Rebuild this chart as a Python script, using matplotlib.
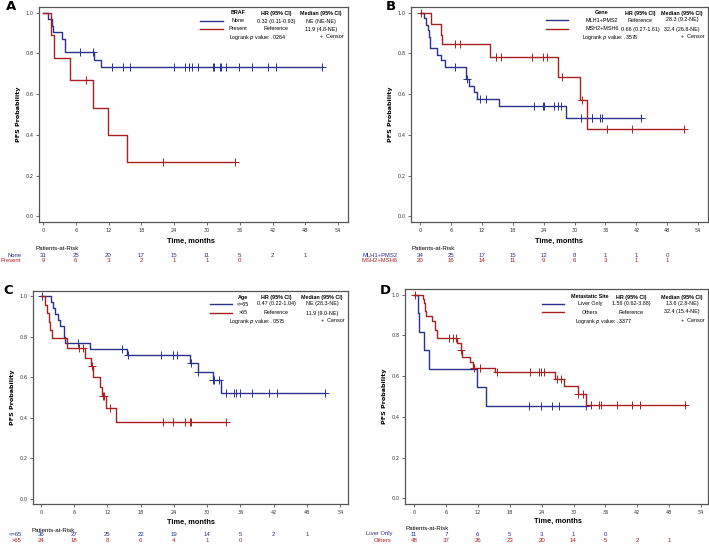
import numpy as np
import matplotlib
matplotlib.use("Agg")
import matplotlib.pyplot as plt
from matplotlib.transforms import blended_transform_factory

# colours of the two groups
BLUE = '#2a318c'
RED = '#a81f1f'

W, H = 709, 545

risk_times = [0, 6, 12, 18, 24, 30, 36, 42, 48]

# ---------------- panel A : BRAF ----------------
a_blue_t = [0, 0.9, 1.7, 1.8, 3.4, 4.1, 9.3, 10.6]
a_blue_s = [1.0, 0.968, 0.935, 0.903, 0.871, 0.806, 0.768, 0.732]
a_blue_c = [6.8, 9.2, 12.7, 14.7, 15.9, 23.9, 26.0, 26.8, 27.3, 28.4, 31.1, 31.3,
            32.3, 32.5, 33.5, 35.8, 38.2, 41.1, 42.7, 51.1]
a_blue_end = 51.1
a_red_t = [0, 1.5, 2.0, 4.9, 9.1, 11.9, 15.4]
a_red_s = [1.0, 0.889, 0.778, 0.667, 0.533, 0.400, 0.267]
a_red_c = [7.8, 22.0, 35.2]
a_red_end = 35.2
a_risk_blue = [31, 25, 20, 17, 15, 11, 5, 2, 1]
a_risk_red = [9, 6, 3, 2, 1, 1, 0]
a_groups = ['None', 'Present']
a_legend = ['BRAF', ['None', '0.32 (0.11-0.93)', 'NE (NE-NE)'],
            ['Present', 'Reference', '11.9 (4.8-NE)'], '.0264']

# ---------------- panel B : Gene ----------------
b_blue_t = [0, 0.7, 1.1, 1.5, 1.7, 1.9, 2.0, 3.2, 4.1, 4.9, 8.9, 9.0, 9.5, 10.5,
            11.0, 15.4, 28.3]
b_blue_s = [1.0, 0.971, 0.941, 0.912, 0.882, 0.853, 0.824, 0.794, 0.765, 0.735,
            0.705, 0.675, 0.642, 0.610, 0.577, 0.540, 0.483]
b_blue_c = [6.8, 9.2, 11.6, 12.8, 22.1, 23.9, 24.1, 26.1, 26.7, 27.3, 31.2, 32.5,
            33.3, 33.4, 34.9, 35.4, 42.9]
b_blue_end = 42.9
b_red_t = [0, 2.1, 4.1, 4.3, 13.6, 26.8, 31.0, 32.5]
b_red_s = [1.0, 0.946, 0.89, 0.844, 0.78, 0.683, 0.572, 0.429]
b_red_c = [0.1, 6.8, 7.8, 14.7, 15.8, 21.7, 23.9, 24.7, 27.6, 31.4, 36.2, 41.2, 51.3]
b_red_end = 51.3
b_risk_blue = [34, 25, 17, 15, 12, 8, 1, 1, 0]
b_risk_red = [20, 16, 14, 11, 9, 6, 3, 1, 1]
b_groups = ['MLH1+PMS2', 'MSH2+MSH6']
b_legend = ['Gene', ['MLH1+PMS2', 'Reference', '28.3 (9.2-NE)'],
            ['MSH2+MSH6', '0.66 (0.27-1.61)', '32.4 (26.8-NE)'], '.3578']

# ---------------- panel C : Age ----------------
c_blue_t = [0, 1.8, 2.1, 2.5, 3.0, 3.5, 4.1, 4.4, 8.9, 15.5, 26.8, 28.3, 31.0, 32.4]
c_blue_s = [1.0, 0.972, 0.942, 0.914, 0.882, 0.854, 0.80, 0.77, 0.738, 0.709,
            0.671, 0.627, 0.586, 0.523]
c_blue_c = [0.2, 6.6, 14.7, 15.7, 21.7, 23.8, 23.9, 24.5, 27.1, 28.4, 31.1, 31.2,
            32.2, 33.4, 34.8, 35.2, 36.0, 38.1, 41.1, 42.6, 51.3]
c_blue_end = 51.3
c_red_t = [0, 0.8, 1.0, 1.4, 1.7, 2.0, 4.7, 8.0, 9.0, 9.4, 10.6, 11.0, 11.8, 13.6]
c_red_s = [1.0, 0.958, 0.917, 0.875, 0.833, 0.792, 0.747, 0.697, 0.655, 0.602,
           0.553, 0.507, 0.449, 0.38]
c_red_c = [6.8, 7.6, 9.2, 11.2, 11.4, 12.4, 22.0, 23.8, 25.9, 26.8, 27.1, 33.4]
c_red_end = 33.4
c_risk_blue = [36, 27, 25, 22, 19, 14, 5, 2, 1]
c_risk_red = [24, 18, 8, 6, 4, 1, 0]
c_groups = ['<=65', '>65']
c_legend = ['Age', ['<=65', '0.47 (0.22-1.04)', 'NE (28.3-NE)'],
            ['>65', 'Reference', '11.9 (9.0-NE)'], '.0575']

# ---------------- panel D : Metastatic site ----------------
d_blue_t = [0, 0.8, 0.9, 1.9, 2.8, 11.9, 13.5]
d_blue_s = [1.0, 0.909, 0.818, 0.727, 0.636, 0.545, 0.455]
d_blue_c = [21.7, 23.8, 26.0, 27.2, 32.3]
d_blue_end = 32.3
d_red_t = [0, 1.6, 1.8, 2.0, 2.1, 2.2, 3.3, 3.9, 4.4, 8.0, 8.8, 9.1, 10.5, 11.0,
           15.2, 26.6, 28.2, 30.8, 32.3]
d_red_s = [1.0, 0.979, 0.958, 0.938, 0.917, 0.896, 0.87, 0.827, 0.787, 0.764,
           0.728, 0.695, 0.669, 0.641, 0.621, 0.588, 0.55, 0.514, 0.46]
d_red_c = [0.1, 6.6, 7.4, 7.8, 8.9, 11.3, 12.4, 15.7, 21.9, 23.6, 23.9, 24.5, 26.8,
           27.7, 30.9, 31.8, 33.2, 34.8, 35.2, 38.1, 41.0, 42.5, 50.9]
d_red_end = 50.9
d_risk_blue = [11, 7, 6, 5, 3, 1, 0]
d_risk_red = [48, 37, 26, 23, 20, 14, 5, 2, 1]
d_groups = ['Liver Only', 'Others']
d_legend = ['Metastatic Site', ['Liver Only', '1.56 (0.62-3.88)', '13.6 (2.8-NE)'],
            ['Others', 'Reference', '32.4 (15.4-NE)'], '.3377']


def fx(px):
    return px / W


def fy(py):
    return 1 - py / H


def km_curve(ax, t, s, c, end, col):
    x = list(t) + [end]
    y = list(s) + [s[-1]]
    ax.step(x, y, where='post', color=col, lw=1.0, clip_on=False)
    idx = np.searchsorted(t, c, side='right') - 1
    cy = np.array(s)[idx]
    ax.plot(c, cy, ls='none', marker='+', ms=6, mew=0.7, color=col, clip_on=False)


def panel(box, letter, blue, red, risk_b, risk_r, groups, legend, lay):
    # box = left, top, right, bottom in pixels, lay holds the pixel positions of texts
    l, t, r, b = box
    ax = fig.add_axes([fx(l), fy(b), fx(r - l), (b - t) / H])
    km_curve(ax, *blue, BLUE)
    km_curve(ax, *red, RED)
    ax.set_xlim(lay['xlim'])
    ax.set_ylim(-0.027, 1.027)
    ax.set_xticks(np.arange(0, 55, 6))
    ax.set_yticks(np.arange(0, 1.01, 0.2))
    ax.set_yticklabels(['%.1f' % v for v in np.arange(0, 1.01, 0.2)])
    ax.tick_params(labelsize=3.6, length=2, width=0.5, pad=2, colors='#333333')
    for sp in ax.spines.values():
        sp.set_color('#555555')
        sp.set_linewidth(0.9)
    ax.set_ylabel('PFS Probability', fontsize=4.6, fontweight='bold', labelpad=3)

    fig.text(fx(lay['letter'][0]), fy(lay['letter'][1]), letter, fontsize=9.5,
             fontweight='bold', ha='left', va='center')

    tr = blended_transform_factory(ax.transData, fig.transFigure)
    ax.text(27, fy(lay['time']), 'Time, months', transform=tr, ha='center',
            va='center', fontsize=5.3, fontweight='bold', family='Liberation Sans')
    fig.text(fx(lay['par'][0]), fy(lay['par'][1]), 'Patients-at-Risk', fontsize=4.4,
             family='Liberation Sans', ha='left', va='center')
    for row, vals, col, name in [(lay['rows'][0], risk_b, BLUE, groups[0]),
                                 (lay['rows'][1], risk_r, RED, groups[1])]:
        fig.text(fx(lay['rlab']), fy(row), name, color=col, fontsize=4.2,
                 family='Liberation Sans', ha='right', va='center')
        for tm, v in zip(risk_times, vals):
            ax.text(tm, fy(row), str(v), transform=tr, color=col, fontsize=4.4,
                    family='Liberation Sans', ha='center', va='center')

    # legend table
    hy, r1, r2, r3 = lay['leg_y']
    c0, c1, c2 = lay['leg_x']
    lf = dict(fontsize=3.9, family='Liberation Sans', ha='center', va='center')
    fig.text(fx(c0), fy(hy), legend[0], fontweight='bold', **lf)
    fig.text(fx(c1), fy(hy), 'HR (95% CI)', fontweight='bold', **lf)
    fig.text(fx(c2), fy(hy), 'Median (95% CI)', fontweight='bold', **lf)
    for ry, row, col in [(r1, legend[1], BLUE), (r2, legend[2], RED)]:
        fig.text(fx(c0), fy(ry), row[0], **lf)
        fig.text(fx(c1), fy(ry), row[1], **lf)
        fig.text(fx(c2), fy(ry), row[2], **lf)
        fig.add_artist(plt.Line2D([fx(lay['line'][0]), fx(lay['line'][1])],
                                  [fy(ry), fy(ry)], color=col, lw=1.0))
    fig.text(fx(lay['logrank']), fy(r3), 'Logrank $p$ value: ' + legend[3], **lf)
    lf2 = dict(lf)
    lf2['ha'] = 'right'
    fig.text(fx(lay['censor']), fy(r3), '+  Censor', **lf2)
    return ax


fig = plt.figure(figsize=(W / 100, H / 100), dpi=100)

panel((39, 7, 348, 222), 'A',
      (a_blue_t, a_blue_s, a_blue_c, a_blue_end), (a_red_t, a_red_s, a_red_c, a_red_end),
      a_risk_blue, a_risk_red, a_groups, a_legend,
      dict(xlim=(-0.73, 55.8), letter=(6, 7), time=241, par=(35, 248), rows=(255, 261),
           rlab=21, leg_y=(13, 21, 29, 37), leg_x=(238, 276, 321), line=(200, 223),
           logrank=258, censor=344))

panel((411, 7, 708, 222), 'B',
      (b_blue_t, b_blue_s, b_blue_c, b_blue_end), (b_red_t, b_red_s, b_red_c, b_red_end),
      b_risk_blue, b_risk_red, b_groups, b_legend,
      dict(xlim=(-1.75, 55.9), letter=(386, 7), time=241, par=(412, 249), rows=(255, 261),
           rlab=398, leg_y=(13, 20, 29, 37), leg_x=(602, 640, 682), line=(546, 568),
           logrank=610, censor=705))

panel((33, 291, 348, 504), 'C',
      (c_blue_t, c_blue_s, c_blue_c, c_blue_end), (c_red_t, c_red_s, c_red_c, c_red_end),
      c_risk_blue, c_risk_red, c_groups, c_legend,
      dict(xlim=(-1.44, 55.4), letter=(3, 290), time=522, par=(32, 530), rows=(535, 541),
           rlab=22, leg_y=(297, 304, 313, 321), leg_x=(243, 276, 322), line=(210, 232),
           logrank=257, censor=345))

panel((405, 289, 708, 504), 'D',
      (d_blue_t, d_blue_s, d_blue_c, d_blue_end), (d_red_t, d_red_s, d_red_c, d_red_end),
      d_risk_blue, d_risk_red, d_groups, d_legend,
      dict(xlim=(-1.7, 55.3), letter=(380, 290), time=521, par=(406, 528), rows=(534, 540),
           rlab=392, leg_y=(297, 304, 312, 321), leg_x=(590, 631, 682), line=(542, 564),
           logrank=603, censor=705))

fig.savefig('out.png', dpi=100)
